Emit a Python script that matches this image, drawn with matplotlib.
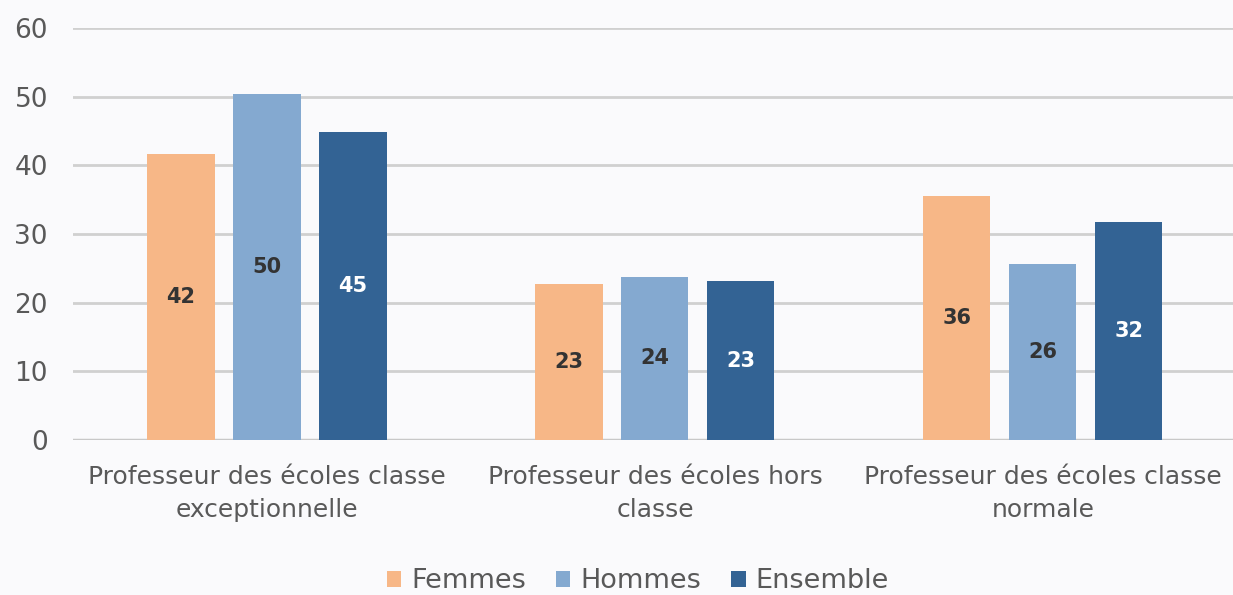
import matplotlib
matplotlib.use('Agg')
from matplotlib import pyplot as plt
import numpy as np

# data
categories = ['Professeur des écoles classe\nexceptionnelle',
              'Professeur des écoles hors\nclasse',
              'Professeur des écoles classe\nnormale']
series = ['Femmes', 'Hommes', 'Ensemble']
femmes = [41.6, 22.7, 35.5]
hommes = [50.4, 23.8, 25.6]
ensemble = [44.8, 23.1, 31.8]
colors = ['#F7B787', '#84A9D0', '#336394']
label_colors = ['#333333', '#333333', '#ffffff']

plt.rcParams['font.family'] = ['DejaVu Sans']
bg = '#fafafc'
fig = plt.figure(figsize=(12.33, 5.95), dpi=100, facecolor=bg)
ax = fig.add_axes([73/1233, 155/595, 1160/1233, 412/595], facecolor=bg)

x = np.arange(len(categories))
w = 0.173
step = 0.2216
for i, (vals, name) in enumerate(zip([femmes, hommes, ensemble], series)):
    pos = x + (i - 1) * step
    bars = ax.bar(pos, vals, w, color=colors[i], label=name, zorder=3)
    for b, v in zip(bars, vals):
        ax.text(b.get_x() + b.get_width()/2, v/2, '%d' % round(v),
                ha='center', va='center', fontsize=15, fontweight='bold',
                color=label_colors[i], zorder=4)

ax.set_ylim(0, 60)
ax.set_xlim(-0.5, 2.49)
ax.set_yticks(range(0, 61, 10))
ax.yaxis.grid(True, color='#d0d0d0', linewidth=2)
ax.set_axisbelow(True)
for s in ax.spines.values():
    s.set_visible(False)
ax.axhline(0, color='#c8c8c8', linewidth=2.5, zorder=2)
ax.tick_params(axis='y', length=0, labelsize=19, labelcolor='#595959', pad=18)
ax.tick_params(axis='x', length=0, labelsize=18, labelcolor='#595959', pad=18)
ax.set_xticks(x)
ax.set_xticklabels(categories, linespacing=1.45)

leg = fig.legend(loc='lower center', bbox_to_anchor=(0.517, -0.04), ncol=3,
                 frameon=False, fontsize=19.5, handlelength=0.55, handleheight=0.55,
                 handletextpad=0.35, columnspacing=1.1, labelcolor='#595959')

fig.savefig('out.png', dpi=100, facecolor=bg)
